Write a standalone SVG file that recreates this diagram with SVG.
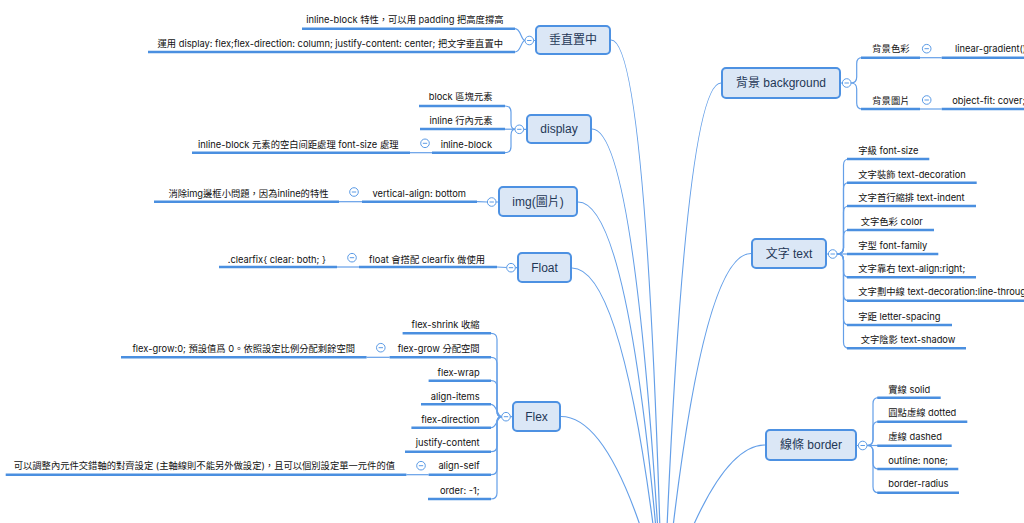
<svg xmlns="http://www.w3.org/2000/svg" xmlns:xlink="http://www.w3.org/1999/xlink" width="1024" height="523" viewBox="0 0 1024 523">
<style>
.box{fill:#dbe7f6;stroke:#4d91e2;stroke-width:2}
.mt{font-family:"Liberation Sans","Noto Sans CJK TC",sans-serif;font-size:12px;fill:#1f3756;text-anchor:middle;dominant-baseline:central}
.st{font-family:Inter,"Noto Sans CJK TC",sans-serif;font-size:9.3px;fill:#111111;dominant-baseline:central}
.l{text-anchor:end}
.ul{stroke:#4a8fe0;stroke-width:2.6;fill:none}
.cn{stroke:#649fe8;stroke-width:1.2;fill:none}
.cc{fill:#fff;stroke:#5b9be6;stroke-width:1}
.cm{stroke:#5b9be6;stroke-width:1}
</style>
<defs>
<g id="col"><circle class="cc" r="4.3"/><line class="cm" x1="-2.2" y1="0" x2="2.2" y2="0"/></g>
</defs>
<rect width="1024" height="523" fill="#ffffff"/>

<g id="connectors">
<path class="cn" d="M611 40 Q647 40 662 600"/>
<path class="cn" d="M592 129 Q636 129 662 600"/>
<path class="cn" d="M578 202 Q631 202 662 600"/>
<path class="cn" d="M572 268 Q626 268 662 600"/>
<path class="cn" d="M561 416.5 Q615 416.5 662 600"/>
<path class="cn" d="M721 83 Q684 83 664 600"/>
<path class="cn" d="M751 253.5 Q700 253.5 665 600"/>
<path class="cn" d="M765 445 Q716 445 665 600"/>
<path class="cn" d="M535 40.5 H533 M526 129.3 H523.6 M498 202 H496 M517 267.7 H515.3 M512 416.7 H510.3 M841 83 H842.4 M827 254 H828.4 M857 445.5 H858.4"/>
<path class="cn" d="M525 40.5 C521 40.5 521 28.7 515 28.7"/>
<path class="cn" d="M525 40.5 C521 40.5 521 52 515 52"/>
<path class="cn" d="M515 129.3 Q511 129.3 511 123.3 V112 Q511 106 505 106"/>
<path class="cn" d="M515 129.2 H505"/>
<path class="cn" d="M515 129.3 Q511 129.3 511 135.3 V146.7 Q511 152.7 505 152.7"/>
<path class="cn" d="M432 152.7 H410"/>
<path class="cn" d="M487.4 202 L477 201.7"/>
<path class="cn" d="M362 201.7 H339"/>
<path class="cn" d="M506.7 267.5 L497 267"/>
<path class="cn" d="M359 267 H337"/>
<path class="cn" d="M501.7 416.7 Q497 416.7 497 410.7 V339.3 Q497 333.3 491 333.3"/>
<path class="cn" d="M501.7 416.7 Q497 416.7 497 410.7 V363.3 Q497 357.3 491 357.3"/>
<path class="cn" d="M501.7 416.7 Q497 416.7 497 410.7 V386.7 Q497 380.7 491 380.7"/>
<path class="cn" d="M501.7 416.7 C497 416.7 497 404.3 491 404.3"/>
<path class="cn" d="M501.7 416.7 C497 416.7 497 427.7 491 427.7"/>
<path class="cn" d="M501.7 416.7 Q497 416.7 497 422.7 V445.7 Q497 451.7 491 451.7"/>
<path class="cn" d="M501.7 416.7 Q497 416.7 497 422.7 V468.7 Q497 474.7 491 474.7"/>
<path class="cn" d="M501.7 416.7 Q497 416.7 497 422.7 V493 Q497 499 491 499"/>
<path class="cn" d="M389.6 357.3 H366.6"/>
<path class="cn" d="M428.6 474.7 H406.4"/>
<path class="cn" d="M851 83 Q856.7 83 856.7 77 V63.7 Q856.7 57.7 862 57.7"/>
<path class="cn" d="M851 83 Q856.7 83 856.7 89 V103 Q856.7 109 862 109"/>
<path class="cn" d="M920 57.7 H941.7"/>
<path class="cn" d="M920 109 H941.7"/>
<path class="cn" d="M837 254 Q843.5 254 843.5 248 V165 Q843.5 159 849 159"/>
<path class="cn" d="M837 254 Q843.5 254 843.5 248 V188.7 Q843.5 182.7 849 182.7"/>
<path class="cn" d="M837 254 Q843.5 254 843.5 248 V212 Q843.5 206 849 206"/>
<path class="cn" d="M837 254 Q843.5 254 843.5 248 V236 Q843.5 230 849 230"/>
<path class="cn" d="M837 254 H849"/>
<path class="cn" d="M837 254 Q843.5 254 843.5 260 V271.3 Q843.5 277.3 849 277.3"/>
<path class="cn" d="M837 254 Q843.5 254 843.5 260 V294.7 Q843.5 300.7 849 300.7"/>
<path class="cn" d="M837 254 Q843.5 254 843.5 260 V319 Q843.5 325 849 325"/>
<path class="cn" d="M837 254 Q843.5 254 843.5 260 V342.3 Q843.5 348.3 849 348.3"/>
<path class="cn" d="M867 445.5 Q873 445.5 873 439.5 V403.7 Q873 397.7 878.5 397.7"/>
<path class="cn" d="M867 445.5 Q873 445.5 873 439.5 V427.7 Q873 421.7 878.5 421.7"/>
<path class="cn" d="M867 445.5 H878.5"/>
<path class="cn" d="M867 445.5 Q873 445.5 873 451.5 V463 Q873 469 878.5 469"/>
<path class="cn" d="M867 445.5 Q873 445.5 873 451.5 V486.7 Q873 492.7 878.5 492.7"/>
</g>

<g id="node-vcenter">
<rect class="box" x="536" y="26" width="74" height="28" rx="4"/>
<text class="mt" x="573" y="40">垂直置中</text>
<use xlink:href="#col" x="529.3" y="40.5"/>
</g>
<g id="node-vcenter-1">
<line class="ul" x1="302" y1="28.7" x2="515" y2="28.7"/>
<text class="st l" x="503.5" y="19.3">inline-block 特性，可以用 padding 把高度撐高</text>
</g>
<g id="node-vcenter-2">
<line class="ul" x1="148" y1="52" x2="515" y2="52"/>
<text class="st l" x="503" y="43.3">運用 display: flex;flex-direction: column; justify-content: center; 把文字垂直置中</text>
</g>

<g id="node-display">
<rect class="box" x="527" y="115" width="64" height="28" rx="4"/>
<text class="mt" x="559" y="129">display</text>
<use xlink:href="#col" x="519.3" y="129.3"/>
</g>
<g id="node-display-1">
<line class="ul" x1="419" y1="106" x2="505" y2="106"/>
<text class="st l" x="492.5" y="96.7">block 區塊元素</text>
</g>
<g id="node-display-2">
<line class="ul" x1="420" y1="129" x2="505" y2="129"/>
<text class="st l" x="492.5" y="120">inline 行內元素</text>
</g>
<g id="node-display-3">
<line class="ul" x1="432" y1="152.7" x2="505" y2="152.7"/>
<text class="st l" x="492" y="144">inline-block</text>
<use xlink:href="#col" x="425" y="143.3"/>
</g>
<g id="node-display-3-1">
<line class="ul" x1="192" y1="152.7" x2="410" y2="152.7"/>
<text class="st l" x="398.5" y="144">inline-block 元素的空白间距處理 font-size 處理</text>
</g>

<g id="node-img">
<rect class="box" x="499" y="187" width="78" height="29" rx="4"/>
<text class="mt" x="538" y="201.5">img(圖片)</text>
<use xlink:href="#col" x="491.7" y="202"/>
</g>
<g id="node-img-1">
<line class="ul" x1="362" y1="201.7" x2="477" y2="201.7"/>
<text class="st l" x="466" y="193">vertical-align: bottom</text>
<use xlink:href="#col" x="354" y="192"/>
</g>
<g id="node-img-1-1">
<line class="ul" x1="154" y1="201.7" x2="339" y2="201.7"/>
<text class="st l" x="328.5" y="193">消除img邊框小問題，因為inline的特性</text>
</g>

<g id="node-float">
<rect class="box" x="518" y="253" width="53" height="29" rx="4"/>
<text class="mt" x="544.5" y="267.5">Float</text>
<use xlink:href="#col" x="511" y="267.7"/>
</g>
<g id="node-float-1">
<line class="ul" x1="359" y1="267" x2="497" y2="267"/>
<text class="st l" x="485" y="259">float 會搭配 clearfix 做使用</text>
<use xlink:href="#col" x="352" y="257.7"/>
</g>
<g id="node-float-1-1">
<line class="ul" x1="219" y1="267" x2="337" y2="267"/>
<text class="st l" x="326" y="259">.clearfix{ clear: both; }</text>
</g>

<g id="node-flex">
<rect class="box" x="513" y="402" width="47" height="29" rx="4"/>
<text class="mt" x="536.5" y="416.5">Flex</text>
<use xlink:href="#col" x="506" y="416.7"/>
</g>
<g id="node-flex-1">
<line class="ul" x1="402.6" y1="333.3" x2="491" y2="333.3"/>
<text class="st l" x="479.6" y="324.3">flex-shrink 收縮</text>
</g>
<g id="node-flex-2">
<line class="ul" x1="389.6" y1="357.3" x2="491" y2="357.3"/>
<text class="st l" x="479.6" y="348.3">flex-grow 分配空間</text>
<use xlink:href="#col" x="380.8" y="347.7"/>
</g>
<g id="node-flex-2-1">
<line class="ul" x1="121" y1="357.3" x2="366.6" y2="357.3"/>
<text class="st l" x="355" y="348.3">flex-grow:0; 預設值爲 0。依照設定比例分配剩餘空間</text>
</g>
<g id="node-flex-3">
<line class="ul" x1="428.6" y1="380.7" x2="491" y2="380.7"/>
<text class="st l" x="479.6" y="372.3">flex-wrap</text>
</g>
<g id="node-flex-4">
<line class="ul" x1="421" y1="404.3" x2="491" y2="404.3"/>
<text class="st l" x="479.6" y="396">align-items</text>
</g>
<g id="node-flex-5">
<line class="ul" x1="411.4" y1="427.7" x2="491" y2="427.7"/>
<text class="st l" x="479.6" y="419">flex-direction</text>
</g>
<g id="node-flex-6">
<line class="ul" x1="405" y1="451.7" x2="491" y2="451.7"/>
<text class="st l" x="479.6" y="442.7">justify-content</text>
</g>
<g id="node-flex-7">
<line class="ul" x1="428.6" y1="474.7" x2="491" y2="474.7"/>
<text class="st l" x="479.6" y="465.7">align-self</text>
<use xlink:href="#col" x="421" y="465.7"/>
</g>
<g id="node-flex-7-1">
<line class="ul" x1="5.7" y1="474.7" x2="406.4" y2="474.7"/>
<text class="st l" x="395" y="465.7">可以調整內元件交錯軸的對齊設定 (主軸線則不能另外做設定)，且可以個別設定單一元件的值</text>
</g>
<g id="node-flex-8">
<line class="ul" x1="428" y1="499" x2="491" y2="499"/>
<text class="st l" x="479.6" y="490.3">order: -1;</text>
</g>

<g id="node-background">
<rect class="box" x="722" y="68" width="118" height="30" rx="4"/>
<text class="mt" x="781" y="83">背景 background</text>
<use xlink:href="#col" x="846.7" y="83"/>
</g>
<g id="node-background-1">
<line class="ul" x1="861" y1="57.7" x2="920" y2="57.7"/>
<text class="st" x="872.3" y="48.7">背景色彩</text>
<use xlink:href="#col" x="926.7" y="48.7"/>
</g>
<g id="node-background-1-1">
<line class="ul" x1="941.7" y1="57.7" x2="1030" y2="57.7"/>
<text class="st" x="955" y="48.7">linear-gradient()</text>
</g>
<g id="node-background-2">
<line class="ul" x1="861" y1="109" x2="920" y2="109"/>
<text class="st" x="872.3" y="100">背景圖片</text>
<use xlink:href="#col" x="926.7" y="100"/>
</g>
<g id="node-background-2-1">
<line class="ul" x1="941.7" y1="109" x2="1030" y2="109"/>
<text class="st" x="952.3" y="100">object-fit: cover;</text>
</g>

<g id="node-text">
<rect class="box" x="752" y="239" width="74" height="29" rx="4"/>
<text class="mt" x="789" y="253.5">文字 text</text>
<use xlink:href="#col" x="832.7" y="254"/>
</g>
<g id="node-text-1"><line class="ul" x1="847" y1="159" x2="929.3" y2="159"/><text class="st" x="858.3" y="150.7">字級 font-size</text></g>
<g id="node-text-2"><line class="ul" x1="847" y1="182.7" x2="976.7" y2="182.7"/><text class="st" x="858.3" y="174">文字裝飾 text-decoration</text></g>
<g id="node-text-3"><line class="ul" x1="847" y1="206" x2="976" y2="206"/><text class="st" x="858.3" y="197.3">文字首行縮排 text-indent</text></g>
<g id="node-text-4"><line class="ul" x1="847" y1="230" x2="934" y2="230"/><text class="st" x="860.7" y="221">文字色彩 color</text></g>
<g id="node-text-5"><line class="ul" x1="847" y1="254" x2="938.3" y2="254"/><text class="st" x="858.3" y="245">字型 font-family</text></g>
<g id="node-text-6"><line class="ul" x1="847" y1="277.3" x2="976" y2="277.3"/><text class="st" x="858.3" y="268.3">文字靠右 text-align:right;</text></g>
<g id="node-text-7"><line class="ul" x1="847" y1="300.7" x2="1030" y2="300.7"/><text class="st" x="858.3" y="291.7">文字劃中線 text-decoration:line-through</text></g>
<g id="node-text-8"><line class="ul" x1="847" y1="325" x2="952" y2="325"/><text class="st" x="858.3" y="316">字距 letter-spacing</text></g>
<g id="node-text-9"><line class="ul" x1="847" y1="348.3" x2="966" y2="348.3"/><text class="st" x="860.7" y="339">文字陰影 text-shadow</text></g>

<g id="node-border">
<rect class="box" x="766" y="430" width="90" height="30" rx="4"/>
<text class="mt" x="811" y="445">線條 border</text>
<use xlink:href="#col" x="862.7" y="445.5"/>
</g>
<g id="node-border-1"><line class="ul" x1="877.3" y1="397.7" x2="940.7" y2="397.7"/><text class="st" x="888.3" y="389">實線 solid</text></g>
<g id="node-border-2"><line class="ul" x1="877.3" y1="421.7" x2="967.3" y2="421.7"/><text class="st" x="888.3" y="412.7">圓點虛線 dotted</text></g>
<g id="node-border-3"><line class="ul" x1="877.3" y1="445.7" x2="951.7" y2="445.7"/><text class="st" x="888.3" y="436.7">虛線 dashed</text></g>
<g id="node-border-4"><line class="ul" x1="877.3" y1="469" x2="958.3" y2="469"/><text class="st" x="888.3" y="460">outline: none;</text></g>
<g id="node-border-5"><line class="ul" x1="877.3" y1="492.7" x2="959" y2="492.7"/><text class="st" x="888.3" y="483.3">border-radius</text></g>
</svg>
